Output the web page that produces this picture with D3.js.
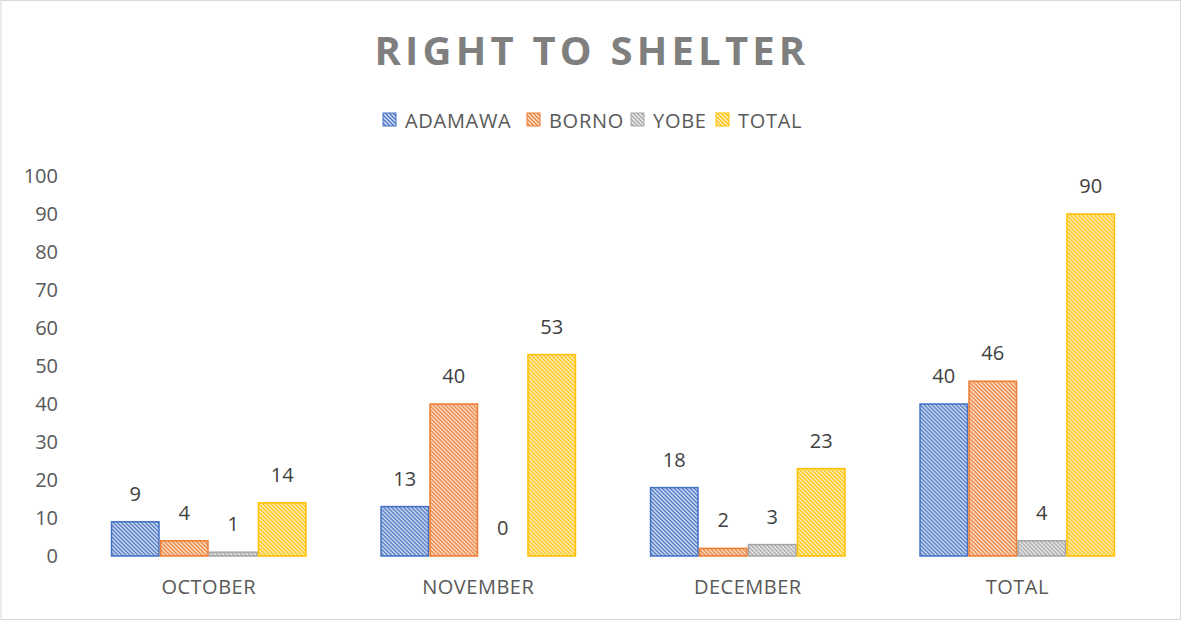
<!DOCTYPE html>
<html>
<head>
<meta charset="utf-8">
<script src="https://cdn.jsdelivr.net/npm/d3@7"></script>
<style>
  body { margin: 0; background: #fff; }
  text { font-family: "Open Sans", "Noto Sans", sans-serif; }
</style>
</head>
<body>
<div id="chart"></div>
<script>
// chart data
const categories = ['OCTOBER', 'NOVEMBER', 'DECEMBER', 'TOTAL'];
const seriesNames = ['ADAMAWA', 'BORNO', 'YOBE', 'TOTAL'];
const adamawa = [9, 13, 18, 40];
const borno = [4, 40, 2, 46];
const yobe = [1, 0, 3, 4];
const total = [14, 53, 23, 90];
const yTicks = [0, 10, 20, 30, 40, 50, 60, 70, 80, 90, 100];

const seriesValues = [adamawa, borno, yobe, total];
const lineColors = ['#4472C4', '#ED7D31', '#A5A5A5', '#FFC000'];
const tintColors = ['#DAE3F3', '#FBE5D6', '#EDEDED', '#FFF2CC'];

const width = 1181, height = 621;
const svg = d3.select('#chart').append('svg')
  .attr('width', width)
  .attr('height', height);

svg.append('rect')
  .attr('x', 1).attr('y', 0.5)
  .attr('width', width - 1.5).attr('height', height - 2)
  .style('fill', 'white')
  .style('stroke', '#d9d9d9');

// hatch patterns, one per series
let defs = svg.append('defs');
seriesNames.forEach(function(name, i) {
  let p = defs.append('pattern')
    .attr('id', 'hatch' + i)
    .attr('patternUnits', 'userSpaceOnUse')
    .attr('width', 4).attr('height', 4);
  p.append('rect').attr('width', 4).attr('height', 4).style('fill', tintColors[i]);
  p.append('path')
    .attr('d', 'M-1,3 l2,2 M0,0 l4,4 M3,-1 l2,2')
    .style('stroke', lineColors[i])
    .style('stroke-width', 1.3);
});

let x = d3.scaleBand()
  .domain(categories)
  .range([74, 1152])
  .paddingInner(0.273)
  .paddingOuter(0.1365);

let xInner = d3.scaleBand()
  .domain(d3.range(seriesNames.length))
  .range([0, x.bandwidth()]);

let y = d3.scaleLinear()
  .domain([0, 100])
  .range([556, 176]);

// title
svg.append('text')
  .attr('x', 592).attr('y', 65)
  .attr('text-anchor', 'middle')
  .style('font-size', '40px')
  .style('font-weight', 'bold')
  .style('letter-spacing', '4.2px')
  .style('fill', '#7f7f7f')
  .text('RIGHT TO SHELTER');

// legend
let legendX = [383, 527, 631, 716];
let legend = svg.append('g');
seriesNames.forEach(function(name, i) {
  legend.append('rect')
    .attr('x', legendX[i]).attr('y', 113)
    .attr('width', 13).attr('height', 13)
    .style('fill', 'url(#hatch' + i + ')')
    .style('stroke', lineColors[i]);
  legend.append('text')
    .attr('x', legendX[i] + 22).attr('y', 128)
    .style('font-size', '20px')
    .style('letter-spacing', '0.7px')
    .style('fill', '#595959')
    .text(name);
});

// y axis labels
let yAxis = d3.axisLeft(y).tickValues(yTicks).tickSize(0).tickPadding(0);
let yg = svg.append('g').attr('transform', 'translate(58,0)').call(yAxis);
yg.select('.domain').remove();
yg.selectAll('text')
  .style('font-size', '20px')
  .style('fill', '#595959')
  .style('font-family', '"Open Sans", sans-serif');

// x axis labels
let xAxis = d3.axisBottom(x).tickSize(0).tickPadding(0);
let xg = svg.append('g').attr('transform', 'translate(0,580)').call(xAxis);
xg.select('.domain').remove();
xg.selectAll('text')
  .style('font-size', '20px')
  .style('letter-spacing', '0.5px')
  .style('fill', '#595959')
  .style('font-family', '"Open Sans", sans-serif');

// bars
let groups = svg.selectAll('g.cat')
  .data(categories)
  .enter()
  .append('g')
  .attr('class', 'cat')
  .attr('transform', function(d) { return 'translate(' + x(d) + ',0)'; });

groups.selectAll('rect')
  .data(function(d, ci) { return seriesValues.map(function(s, si) { return {si: si, v: s[ci]}; }); })
  .enter()
  .append('rect')
  .attr('x', function(d) { return xInner(d.si) + 0.75; })
  .attr('y', function(d) { return y(d.v); })
  .attr('width', xInner.bandwidth() - 1.5)
  .attr('height', function(d) { return y(0) - y(d.v); })
  .style('fill', function(d) { return 'url(#hatch' + d.si + ')'; })
  .style('stroke', function(d) { return lineColors[d.si]; })
  .style('stroke-width', 1.5);

groups.selectAll('text.val')
  .data(function(d, ci) { return seriesValues.map(function(s, si) { return {si: si, v: s[ci]}; }); })
  .enter()
  .append('text')
  .attr('class', 'val')
  .attr('x', function(d) { return xInner(d.si) + xInner.bandwidth() / 2; })
  .attr('y', function(d) { return y(d.v) - 21; })
  .attr('text-anchor', 'middle')
  .style('font-size', '20px')
  .style('fill', '#404040')
  .text(function(d) { return d.v; });
</script>
</body>
</html>
